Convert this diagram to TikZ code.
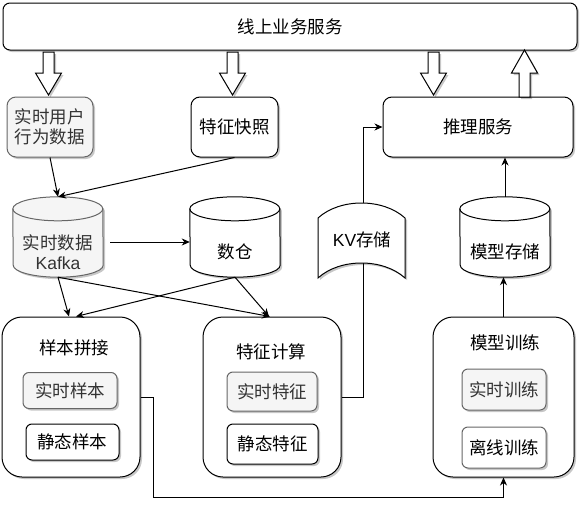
\documentclass[tikz,border=0pt]{standalone}
\usepackage{fontspec}
\setmainfont{Liberation Sans}
\newfontfamily\cjk{Noto Sans CJK SC}
\usetikzlibrary{arrows.meta,shadows,calc}
\definecolor{gfill}{HTML}{F5F5F5}
\definecolor{gdraw}{HTML}{666666}
\definecolor{gtext}{HTML}{333333}
\newcommand\mycyl[3]{%
  \path[fill=#2,draw=#3,line width=1pt,shd] ($(#1.north west)+(0,12)$) arc[start angle=180,end angle=0,x radius=45pt,y radius=12pt] -- ($(#1.south east)+(0,-12)$) arc[start angle=0,end angle=-180,x radius=45pt,y radius=12pt] -- cycle;
  \draw[draw=#3,line width=1pt] ($(#1.north west)+(0,12)$) arc[start angle=180,end angle=360,x radius=45pt,y radius=12pt];
}
\newcommand\blkdown[3]{%
  \path[blk] (#1-5.5,#2) -- (#1+5.5,#2) -- (#1+5.5,#3-22) -- (#1+13,#3-22) -- (#1,#3) -- (#1-13,#3-22) -- (#1-5.5,#3-22) -- cycle;}
\newcommand\blkup[3]{%
  \path[blk] (#1-5.5,#2) -- (#1+5.5,#2) -- (#1+5.5,#3+23) -- (#1+13,#3+23) -- (#1,#3) -- (#1-13,#3+23) -- (#1-5.5,#3+23) -- cycle;}
\begin{document}
\begin{tikzpicture}[x=1pt,y=-1pt,
  shd/.style={drop shadow={shadow xshift=2pt,shadow yshift=-2pt,opacity=0.22,fill=black}},
  fnt/.style={font=\cjk\fontsize{17.5}{20}\selectfont},
  base/.style={draw=black,fill=white,line width=1pt,fnt,align=center,inner sep=0pt,shd},
  box/.style={base,rounded corners=9pt},
  gbox/.style={box,fill=gfill,draw=gdraw,text=gtext},
  cont/.style={base,rounded corners=20pt},
  ibox/.style={base,rounded corners=6pt},
  gibox/.style={ibox,fill=gfill,draw=gdraw,text=gtext},
  txt/.style={fnt,align=center,inner sep=0pt},
  conn/.style={line width=1pt,-{Stealth[length=8pt,width=7pt,inset=2.5pt]}},
  blk/.style={draw=black,fill=white,line width=1pt,shd},
  anchorbox/.style={inner sep=0pt,minimum width=90pt,minimum height=80pt}
]
\useasboundingbox (0,0) rectangle (587,517);

% top service
\node[box,rounded corners=7pt,minimum width=574pt,minimum height=47pt] (online) at (290,26.5) {线上业务服务};

% second row
\node[gbox,minimum width=86pt,minimum height=60pt] (user) at (50,127) {实时用户\\行为数据};
\node[box,minimum width=87pt,minimum height=60pt] (snap) at (234.5,127) {特征快照};
\node[box,minimum width=190pt,minimum height=60pt] (infer) at (478,127) {推理服务};

% block arrows
\blkdown{48.5}{52}{95}
\blkdown{232.5}{52}{95}
\blkdown{433.5}{52}{95}
\blkup{524.5}{97}{50}

% cylinders
\node[anchorbox] (kafka) at (58,237) {};
\mycyl{kafka}{gfill}{gdraw}
\node[txt,text=gtext] (kafkaT) at (58,252) {实时数据\\{\rmfamily Kafka}};
\node[anchorbox] (dw) at (235,237) {};
\mycyl{dw}{white}{black}
\node[txt] (dwT) at (235,252) {数仓};
\node[anchorbox] (ms) at (505,237) {};
\mycyl{ms}{white}{black}
\node[txt] (msT) at (505,252) {模型存储};

% containers
\node[cont,minimum width=138pt,minimum height=160pt] (sample) at (71,397) {};
\node[txt] (sampleT) at (74,348) {样本拼接};
\node[gibox,minimum width=94pt,minimum height=36pt] (rts) at (70,390.5) {实时样本};
\node[ibox,minimum width=93pt,minimum height=36pt] (sts) at (72.5,442) {静态样本};

\node[cont,minimum width=138pt,minimum height=160pt] (feat) at (272,397) {};
\node[txt] (featT) at (271,352) {特征计算};
\node[gibox,minimum width=90pt,minimum height=39pt] (rtf) at (272,391.5) {实时特征};
\node[ibox,minimum width=91pt,minimum height=40pt] (stf) at (272.5,444) {静态特征};

\node[cont,minimum width=141pt,minimum height=160pt] (mt) at (503.5,397) {};
\node[txt] (mtT) at (505,343) {模型训练};
\node[gibox,minimum width=84pt,minimum height=41pt] (rtt) at (504,389.5) {实时训练};
\node[ibox,draw=gdraw,minimum width=84pt,minimum height=41pt] (off) at (504,447.5) {离线训练};

% connector through KV (drawn before KV shape)
\draw[conn] (feat.east) -- ++(22,0) |- (infer.west);

% KV storage shape
\path[blk] (318,218) .. controls (340,198) and (383,198) .. (405,218) -- (405,278) .. controls (383,258) and (340,258) .. (318,278) -- cycle;
\node[txt] (kv) at (362,240) {{\rmfamily KV}存储};

% connectors
\draw[conn] (user.south) -- (kafka.north);
\draw[conn] (snap.south) -- (kafka.north);
\draw[conn] ($(kafka.east)+(7,5)$) -- ($(dw.west)+(0,5)$);
\draw[conn] (kafka.south) -- ($(sample.north)+(-2,0)$);
\draw[conn] (kafka.south) -- ($(feat.north)+(-2,0)$);
\draw[conn] (dw.south) -- ($(sample.north)+(5,0)$);
\draw[conn] (dw.south) -- ($(feat.north)+(-3,0)$);
\draw[conn] (ms.north) -- (ms.north |- infer.south);
\draw[conn] (mt.north) -- (mt.north |- ms.south);
\draw[conn] (sample.east) -- ++(13,0) -- ++(0,100) -| (mt.south);
\end{tikzpicture}
\end{document}
